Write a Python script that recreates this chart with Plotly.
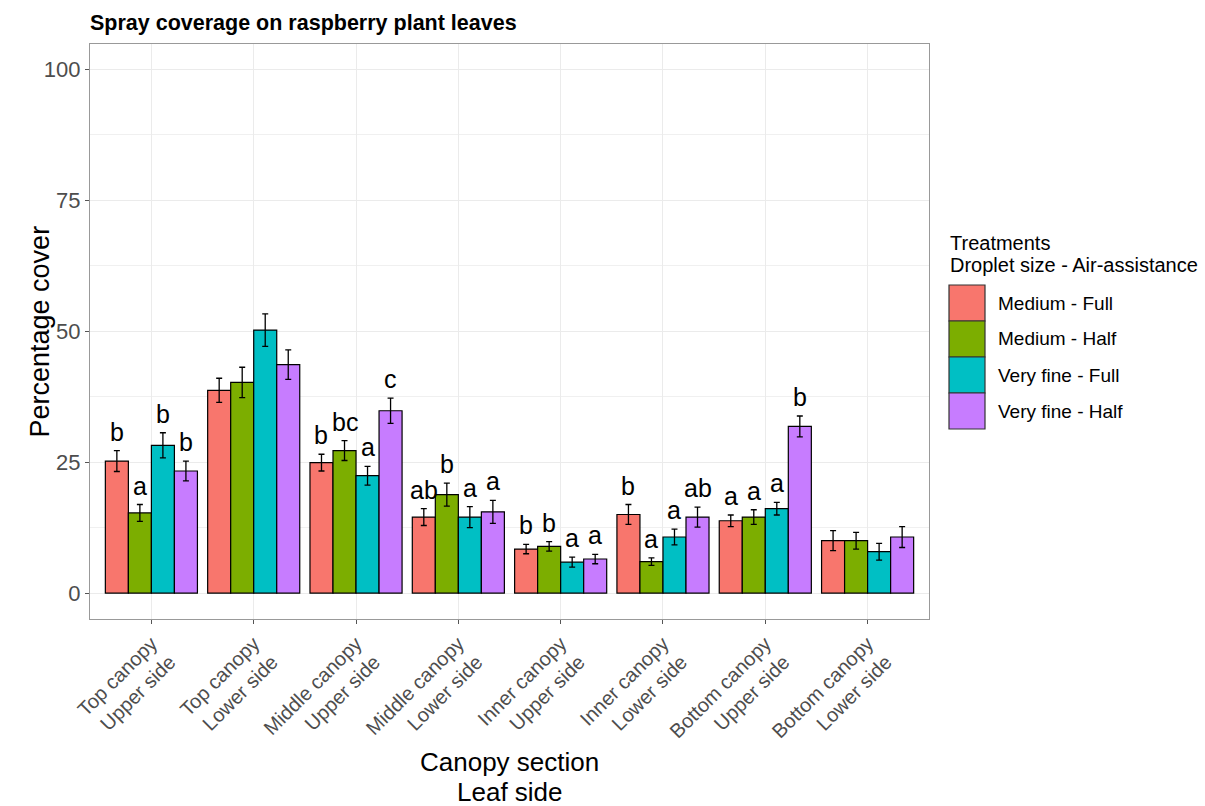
import plotly.graph_objects as go

# Canopy sections (x categories), two-line labels
categories = [
    "Top canopy<br>Upper side",
    "Top canopy<br>Lower side",
    "Middle canopy<br>Upper side",
    "Middle canopy<br>Lower side",
    "Inner canopy<br>Upper side",
    "Inner canopy<br>Lower side",
    "Bottom canopy<br>Upper side",
    "Bottom canopy<br>Lower side",
]

treatments = ["Medium - Full", "Medium - Half", "Very fine - Full", "Very fine - Half"]
colors = ["#F8766D", "#7CAE00", "#00BFC4", "#C77CFF"]

# Mean percentage cover per treatment
medium_full = [25.2, 38.7, 24.9, 14.5, 8.4, 15.0, 13.8, 10.0]
medium_half = [15.3, 40.2, 27.2, 18.8, 8.9, 6.0, 14.5, 10.0]
veryfine_full = [28.2, 50.2, 22.4, 14.5, 5.9, 10.7, 16.1, 7.9]
veryfine_half = [23.3, 43.6, 34.8, 15.5, 6.5, 14.5, 31.8, 10.7]

# Standard errors
medium_full_se = [2.0, 2.3, 1.6, 1.6, 0.9, 1.9, 1.1, 1.9]
medium_half_se = [1.6, 2.9, 1.9, 2.2, 0.9, 0.7, 1.4, 1.6]
veryfine_full_se = [2.4, 3.1, 1.8, 2.0, 0.95, 1.5, 1.2, 1.6]
veryfine_half_se = [1.9, 2.8, 2.4, 2.2, 0.9, 1.9, 2.0, 2.0]

# Significance letters (blank where no test is shown)
medium_full_letters = ["b", "", "b", "ab", "b", "b", "a", ""]
medium_half_letters = ["a", "", "bc", "b", "b", "a", "a", ""]
veryfine_full_letters = ["b", "", "a", "a", "a", "a", "a", ""]
veryfine_half_letters = ["b", "", "c", "a", "a", "ab", "b", ""]

means = [medium_full, medium_half, veryfine_full, veryfine_half]
ses = [medium_full_se, medium_half_se, veryfine_full_se, veryfine_half_se]
letters = [medium_full_letters, medium_half_letters, veryfine_full_letters, veryfine_half_letters]

FONT = "Liberation Sans, Arial, sans-serif"
W, H = 1205, 806
L, R, T, B = 90, 276, 44, 187          # panel margins in px
PW, PH = W - L - R, H - T - B

def px_x(x):
    return (x - L) / PW

def px_y(y):
    return (H - B - y) / PH

xpos = list(range(len(categories)))
bargap = 0.1
bar_w = (1 - bargap) / len(treatments)

fig = go.Figure()
for j, name in enumerate(treatments):
    fig.add_trace(go.Bar(
        x=xpos, y=means[j], name=name,
        marker=dict(color=colors[j], line=dict(color="black", width=1.2)),
        error_y=dict(type="data", array=ses[j], visible=True,
                     color="black", thickness=1.3, width=3),
        showlegend=False,
    ))

annotations = []
# letters above error bars
for j in range(len(treatments)):
    off = (j - (len(treatments) - 1) / 2) * bar_w
    for i, lab in enumerate(letters[j]):
        if not lab:
            continue
        annotations.append(dict(
            x=xpos[i] + off, y=means[j][i] + ses[j][i], xref="x", yref="y",
            text=lab, showarrow=False, yanchor="bottom", xanchor="center",
            yshift=3, font=dict(family=FONT, size=25, color="black"),
        ))

# axis titles
annotations.append(dict(x=px_x(22), y=0.5, xref="paper", yref="paper",
                        text="Percentage cover", textangle=-90, showarrow=False,
                        font=dict(family=FONT, size=27, color="black")))
annotations.append(dict(x=0.5, y=px_y(762), xref="paper", yref="paper",
                        text="Canopy section", showarrow=False, yanchor="middle",
                        font=dict(family=FONT, size=26, color="black")))
annotations.append(dict(x=0.5, y=px_y(792), xref="paper", yref="paper",
                        text="Leaf side", showarrow=False, yanchor="middle",
                        font=dict(family=FONT, size=26, color="black")))

# legend drawn by hand
shapes = []
annotations.append(dict(x=px_x(948), y=px_y(243), xref="paper", yref="paper",
                        text="Treatments", showarrow=False, xanchor="left",
                        yanchor="middle", font=dict(family=FONT, size=20, color="black")))
annotations.append(dict(x=px_x(948), y=px_y(265), xref="paper", yref="paper",
                        text="Droplet size - Air-assistance", showarrow=False,
                        xanchor="left", yanchor="middle",
                        font=dict(family=FONT, size=20, color="black")))
for j, name in enumerate(treatments):
    top = 285 + 36 * j
    shapes.append(dict(type="rect", xref="paper", yref="paper",
                       x0=px_x(949), x1=px_x(985), y0=px_y(top + 36), y1=px_y(top),
                       fillcolor=colors[j], line=dict(color="#333333", width=1.2)))
    annotations.append(dict(x=px_x(996), y=px_y(top + 18), xref="paper", yref="paper",
                            text=name, showarrow=False, xanchor="left", yanchor="middle",
                            font=dict(family=FONT, size=19, color="black")))

fig.update_layout(
    width=W, height=H,
    margin=dict(l=L, r=R, t=T, b=B, autoexpand=False),
    paper_bgcolor="white", plot_bgcolor="white",
    barmode="group", bargap=bargap, bargroupgap=0,
    title=dict(text="<b>Spray coverage on raspberry plant leaves</b>",
               x=0, xref="paper", xanchor="left",
               y=1 - 22 / H, yref="container", yanchor="middle",
               font=dict(family=FONT, size=21.5, color="black")),
    annotations=annotations, shapes=shapes,
    showlegend=False,
)

fig.update_xaxes(
    range=[-0.6, len(categories) - 0.4],
    tickmode="array", tickvals=xpos, ticktext=categories, tickangle=-45,
    tickfont=dict(family=FONT, size=20, color="#4D4D4D"),
    showgrid=True, gridcolor="#EBEBEB", gridwidth=1.2,
    ticks="outside", ticklen=4, tickcolor="#555555",
    showline=True, mirror=True, linecolor="#999999", linewidth=1.2,
    zeroline=False,
)
fig.update_yaxes(
    range=[-4.95, 104.8],
    tickmode="array", tickvals=[0, 25, 50, 75, 100],
    tickfont=dict(family=FONT, size=22, color="#4D4D4D"),
    showgrid=True, gridcolor="#EBEBEB", gridwidth=1.2,
    minor=dict(tickvals=[12.5, 37.5, 62.5, 87.5], showgrid=True,
               gridcolor="#F0F0F0", gridwidth=0.9, ticks=""),
    ticks="outside", ticklen=4, tickcolor="#555555",
    showline=True, mirror=True, linecolor="#999999", linewidth=1.2,
    zeroline=False,
)

fig.write_html("out.html")
